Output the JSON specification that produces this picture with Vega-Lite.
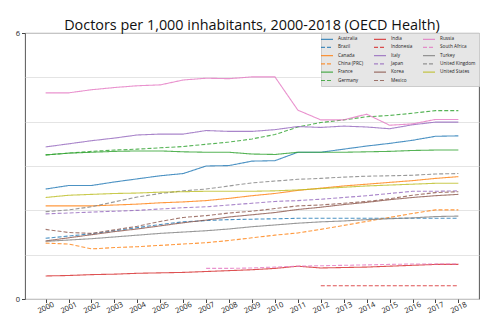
{
  "$schema": "https://vega.github.io/schema/vega-lite/v6.json",
  "autosize": {"type": "none"},
  "padding": {"left": 25, "top": 33, "right": 21, "bottom": 34},
  "width": 454,
  "height": 266,
  "background": "white",
  "title": {"text": "Doctors per 1,000 inhabitants, 2000-2018 (OECD Health)", "font": "Open Sans", "fontSize": 14.4, "fontWeight": "normal", "color": "#111111", "offset": -4, "anchor": "middle"},
  "config": {
    "view": {"stroke": "#444444", "strokeWidth": 0.9},
    "axis": {"labelFont": "Open Sans", "labelColor": "#222222", "tickColor": "#444444", "domain": false, "title": null}
  },
  "datasets": {
    "d": [
      {"c":"Australia","y":2000,"v":2.48},{"c":"Australia","y":2001,"v":2.56},{"c":"Australia","y":2002,"v":2.56},{"c":"Australia","y":2003,"v":2.64},{"c":"Australia","y":2004,"v":2.71},{"c":"Australia","y":2005,"v":2.78},{"c":"Australia","y":2006,"v":2.83},{"c":"Australia","y":2007,"v":3.0},{"c":"Australia","y":2008,"v":3.01},{"c":"Australia","y":2009,"v":3.11},{"c":"Australia","y":2010,"v":3.12},{"c":"Australia","y":2011,"v":3.31},{"c":"Australia","y":2012,"v":3.31},{"c":"Australia","y":2013,"v":3.38},{"c":"Australia","y":2014,"v":3.45},{"c":"Australia","y":2015,"v":3.51},{"c":"Australia","y":2016,"v":3.58},{"c":"Australia","y":2017,"v":3.67},{"c":"Australia","y":2018,"v":3.68},
      {"c":"Brazil","y":2000,"v":1.37},{"c":"Brazil","y":2001,"v":1.42},{"c":"Brazil","y":2002,"v":1.47},{"c":"Brazil","y":2003,"v":1.54},{"c":"Brazil","y":2004,"v":1.61},{"c":"Brazil","y":2005,"v":1.68},{"c":"Brazil","y":2006,"v":1.74},{"c":"Brazil","y":2007,"v":1.77},{"c":"Brazil","y":2008,"v":1.79},{"c":"Brazil","y":2009,"v":1.8},{"c":"Brazil","y":2010,"v":1.81},{"c":"Brazil","y":2011,"v":1.82},{"c":"Brazil","y":2012,"v":1.82},{"c":"Brazil","y":2013,"v":1.82},{"c":"Brazil","y":2014,"v":1.82},{"c":"Brazil","y":2015,"v":1.82},{"c":"Brazil","y":2016,"v":1.82},{"c":"Brazil","y":2017,"v":1.82},{"c":"Brazil","y":2018,"v":1.82},
      {"c":"Canada","y":2000,"v":2.1},{"c":"Canada","y":2001,"v":2.1},{"c":"Canada","y":2002,"v":2.1},{"c":"Canada","y":2003,"v":2.12},{"c":"Canada","y":2004,"v":2.14},{"c":"Canada","y":2005,"v":2.17},{"c":"Canada","y":2006,"v":2.19},{"c":"Canada","y":2007,"v":2.22},{"c":"Canada","y":2008,"v":2.27},{"c":"Canada","y":2009,"v":2.33},{"c":"Canada","y":2010,"v":2.38},{"c":"Canada","y":2011,"v":2.45},{"c":"Canada","y":2012,"v":2.5},{"c":"Canada","y":2013,"v":2.55},{"c":"Canada","y":2014,"v":2.59},{"c":"Canada","y":2015,"v":2.63},{"c":"Canada","y":2016,"v":2.67},{"c":"Canada","y":2017,"v":2.72},{"c":"Canada","y":2018,"v":2.76},
      {"c":"China (PRC)","y":2000,"v":1.26},{"c":"China (PRC)","y":2001,"v":1.24},{"c":"China (PRC)","y":2002,"v":1.13},{"c":"China (PRC)","y":2003,"v":1.16},{"c":"China (PRC)","y":2004,"v":1.18},{"c":"China (PRC)","y":2005,"v":1.21},{"c":"China (PRC)","y":2006,"v":1.24},{"c":"China (PRC)","y":2007,"v":1.27},{"c":"China (PRC)","y":2008,"v":1.32},{"c":"China (PRC)","y":2009,"v":1.38},{"c":"China (PRC)","y":2010,"v":1.44},{"c":"China (PRC)","y":2011,"v":1.49},{"c":"China (PRC)","y":2012,"v":1.57},{"c":"China (PRC)","y":2013,"v":1.66},{"c":"China (PRC)","y":2014,"v":1.75},{"c":"China (PRC)","y":2015,"v":1.84},{"c":"China (PRC)","y":2016,"v":1.93},{"c":"China (PRC)","y":2017,"v":2.01},{"c":"China (PRC)","y":2018,"v":2.01},
      {"c":"France","y":2000,"v":3.25},{"c":"France","y":2001,"v":3.29},{"c":"France","y":2002,"v":3.31},{"c":"France","y":2003,"v":3.33},{"c":"France","y":2004,"v":3.34},{"c":"France","y":2005,"v":3.34},{"c":"France","y":2006,"v":3.32},{"c":"France","y":2007,"v":3.31},{"c":"France","y":2008,"v":3.31},{"c":"France","y":2009,"v":3.27},{"c":"France","y":2010,"v":3.26},{"c":"France","y":2011,"v":3.31},{"c":"France","y":2012,"v":3.31},{"c":"France","y":2013,"v":3.31},{"c":"France","y":2014,"v":3.32},{"c":"France","y":2015,"v":3.33},{"c":"France","y":2016,"v":3.35},{"c":"France","y":2017,"v":3.36},{"c":"France","y":2018,"v":3.36},
      {"c":"Germany","y":2000,"v":3.25},{"c":"Germany","y":2001,"v":3.29},{"c":"Germany","y":2002,"v":3.33},{"c":"Germany","y":2003,"v":3.36},{"c":"Germany","y":2004,"v":3.38},{"c":"Germany","y":2005,"v":3.41},{"c":"Germany","y":2006,"v":3.44},{"c":"Germany","y":2007,"v":3.49},{"c":"Germany","y":2008,"v":3.54},{"c":"Germany","y":2009,"v":3.61},{"c":"Germany","y":2010,"v":3.71},{"c":"Germany","y":2011,"v":3.88},{"c":"Germany","y":2012,"v":3.98},{"c":"Germany","y":2013,"v":4.04},{"c":"Germany","y":2014,"v":4.11},{"c":"Germany","y":2015,"v":4.14},{"c":"Germany","y":2016,"v":4.19},{"c":"Germany","y":2017,"v":4.25},{"c":"Germany","y":2018,"v":4.25},
      {"c":"India","y":2000,"v":0.52},{"c":"India","y":2001,"v":0.53},{"c":"India","y":2002,"v":0.55},{"c":"India","y":2003,"v":0.56},{"c":"India","y":2004,"v":0.58},{"c":"India","y":2005,"v":0.59},{"c":"India","y":2006,"v":0.6},{"c":"India","y":2007,"v":0.62},{"c":"India","y":2008,"v":0.64},{"c":"India","y":2009,"v":0.66},{"c":"India","y":2010,"v":0.69},{"c":"India","y":2011,"v":0.74},{"c":"India","y":2012,"v":0.7},{"c":"India","y":2013,"v":0.71},{"c":"India","y":2014,"v":0.72},{"c":"India","y":2015,"v":0.74},{"c":"India","y":2016,"v":0.76},{"c":"India","y":2017,"v":0.78},{"c":"India","y":2018,"v":0.78},
      {"c":"Indonesia","y":2012,"v":0.3},{"c":"Indonesia","y":2013,"v":0.3},{"c":"Indonesia","y":2014,"v":0.3},{"c":"Indonesia","y":2015,"v":0.3},{"c":"Indonesia","y":2016,"v":0.3},{"c":"Indonesia","y":2017,"v":0.3},{"c":"Indonesia","y":2018,"v":0.3},
      {"c":"Italy","y":2000,"v":3.43},{"c":"Italy","y":2001,"v":3.5},{"c":"Italy","y":2002,"v":3.57},{"c":"Italy","y":2003,"v":3.63},{"c":"Italy","y":2004,"v":3.7},{"c":"Italy","y":2005,"v":3.72},{"c":"Italy","y":2006,"v":3.72},{"c":"Italy","y":2007,"v":3.8},{"c":"Italy","y":2008,"v":3.78},{"c":"Italy","y":2009,"v":3.78},{"c":"Italy","y":2010,"v":3.82},{"c":"Italy","y":2011,"v":3.89},{"c":"Italy","y":2012,"v":3.87},{"c":"Italy","y":2013,"v":3.9},{"c":"Italy","y":2014,"v":3.88},{"c":"Italy","y":2015,"v":3.84},{"c":"Italy","y":2016,"v":3.93},{"c":"Italy","y":2017,"v":3.99},{"c":"Italy","y":2018,"v":3.99},
      {"c":"Japan","y":2000,"v":1.92},{"c":"Japan","y":2001,"v":1.94},{"c":"Japan","y":2002,"v":1.96},{"c":"Japan","y":2003,"v":1.98},{"c":"Japan","y":2004,"v":2.0},{"c":"Japan","y":2005,"v":2.03},{"c":"Japan","y":2006,"v":2.06},{"c":"Japan","y":2007,"v":2.08},{"c":"Japan","y":2008,"v":2.12},{"c":"Japan","y":2009,"v":2.16},{"c":"Japan","y":2010,"v":2.2},{"c":"Japan","y":2011,"v":2.22},{"c":"Japan","y":2012,"v":2.25},{"c":"Japan","y":2013,"v":2.29},{"c":"Japan","y":2014,"v":2.33},{"c":"Japan","y":2015,"v":2.38},{"c":"Japan","y":2016,"v":2.43},{"c":"Japan","y":2017,"v":2.43},{"c":"Japan","y":2018,"v":2.44},
      {"c":"Korea","y":2000,"v":1.31},{"c":"Korea","y":2001,"v":1.38},{"c":"Korea","y":2002,"v":1.45},{"c":"Korea","y":2003,"v":1.52},{"c":"Korea","y":2004,"v":1.58},{"c":"Korea","y":2005,"v":1.65},{"c":"Korea","y":2006,"v":1.72},{"c":"Korea","y":2007,"v":1.78},{"c":"Korea","y":2008,"v":1.85},{"c":"Korea","y":2009,"v":1.9},{"c":"Korea","y":2010,"v":1.95},{"c":"Korea","y":2011,"v":2.02},{"c":"Korea","y":2012,"v":2.07},{"c":"Korea","y":2013,"v":2.13},{"c":"Korea","y":2014,"v":2.18},{"c":"Korea","y":2015,"v":2.24},{"c":"Korea","y":2016,"v":2.29},{"c":"Korea","y":2017,"v":2.33},{"c":"Korea","y":2018,"v":2.36},
      {"c":"Mexico","y":2000,"v":1.57},{"c":"Mexico","y":2001,"v":1.5},{"c":"Mexico","y":2002,"v":1.48},{"c":"Mexico","y":2003,"v":1.56},{"c":"Mexico","y":2004,"v":1.64},{"c":"Mexico","y":2005,"v":1.75},{"c":"Mexico","y":2006,"v":1.84},{"c":"Mexico","y":2007,"v":1.88},{"c":"Mexico","y":2008,"v":1.94},{"c":"Mexico","y":2009,"v":1.98},{"c":"Mexico","y":2010,"v":2.04},{"c":"Mexico","y":2011,"v":2.1},{"c":"Mexico","y":2012,"v":2.12},{"c":"Mexico","y":2013,"v":2.16},{"c":"Mexico","y":2014,"v":2.2},{"c":"Mexico","y":2015,"v":2.26},{"c":"Mexico","y":2016,"v":2.34},{"c":"Mexico","y":2017,"v":2.4},{"c":"Mexico","y":2018,"v":2.42},
      {"c":"Russia","y":2000,"v":4.65},{"c":"Russia","y":2001,"v":4.65},{"c":"Russia","y":2002,"v":4.72},{"c":"Russia","y":2003,"v":4.77},{"c":"Russia","y":2004,"v":4.81},{"c":"Russia","y":2005,"v":4.83},{"c":"Russia","y":2006,"v":4.94},{"c":"Russia","y":2007,"v":4.98},{"c":"Russia","y":2008,"v":4.97},{"c":"Russia","y":2009,"v":5.01},{"c":"Russia","y":2010,"v":5.01},{"c":"Russia","y":2011,"v":4.26},{"c":"Russia","y":2012,"v":4.04},{"c":"Russia","y":2013,"v":4.04},{"c":"Russia","y":2014,"v":4.17},{"c":"Russia","y":2015,"v":3.92},{"c":"Russia","y":2016,"v":3.95},{"c":"Russia","y":2017,"v":4.05},{"c":"Russia","y":2018,"v":4.05},
      {"c":"South Africa","y":2007,"v":0.69},{"c":"South Africa","y":2008,"v":0.69},{"c":"South Africa","y":2009,"v":0.7},{"c":"South Africa","y":2010,"v":0.72},{"c":"South Africa","y":2011,"v":0.74},{"c":"South Africa","y":2012,"v":0.75},{"c":"South Africa","y":2013,"v":0.76},{"c":"South Africa","y":2014,"v":0.77},{"c":"South Africa","y":2015,"v":0.78},{"c":"South Africa","y":2016,"v":0.79},{"c":"South Africa","y":2017,"v":0.79},{"c":"South Africa","y":2018,"v":0.79},
      {"c":"Turkey","y":2000,"v":1.3},{"c":"Turkey","y":2001,"v":1.33},{"c":"Turkey","y":2002,"v":1.36},{"c":"Turkey","y":2003,"v":1.4},{"c":"Turkey","y":2004,"v":1.44},{"c":"Turkey","y":2005,"v":1.48},{"c":"Turkey","y":2006,"v":1.51},{"c":"Turkey","y":2007,"v":1.54},{"c":"Turkey","y":2008,"v":1.58},{"c":"Turkey","y":2009,"v":1.63},{"c":"Turkey","y":2010,"v":1.67},{"c":"Turkey","y":2011,"v":1.71},{"c":"Turkey","y":2012,"v":1.74},{"c":"Turkey","y":2013,"v":1.76},{"c":"Turkey","y":2014,"v":1.79},{"c":"Turkey","y":2015,"v":1.81},{"c":"Turkey","y":2016,"v":1.83},{"c":"Turkey","y":2017,"v":1.86},{"c":"Turkey","y":2018,"v":1.87},
      {"c":"United Kingdom","y":2000,"v":1.97},{"c":"United Kingdom","y":2001,"v":2.01},{"c":"United Kingdom","y":2002,"v":2.08},{"c":"United Kingdom","y":2003,"v":2.19},{"c":"United Kingdom","y":2004,"v":2.3},{"c":"United Kingdom","y":2005,"v":2.38},{"c":"United Kingdom","y":2006,"v":2.44},{"c":"United Kingdom","y":2007,"v":2.48},{"c":"United Kingdom","y":2008,"v":2.55},{"c":"United Kingdom","y":2009,"v":2.62},{"c":"United Kingdom","y":2010,"v":2.66},{"c":"United Kingdom","y":2011,"v":2.7},{"c":"United Kingdom","y":2012,"v":2.72},{"c":"United Kingdom","y":2013,"v":2.75},{"c":"United Kingdom","y":2014,"v":2.77},{"c":"United Kingdom","y":2015,"v":2.78},{"c":"United Kingdom","y":2016,"v":2.79},{"c":"United Kingdom","y":2017,"v":2.82},{"c":"United Kingdom","y":2018,"v":2.83},
      {"c":"United States","y":2000,"v":2.29},{"c":"United States","y":2001,"v":2.34},{"c":"United States","y":2002,"v":2.36},{"c":"United States","y":2003,"v":2.38},{"c":"United States","y":2004,"v":2.39},{"c":"United States","y":2005,"v":2.41},{"c":"United States","y":2006,"v":2.42},{"c":"United States","y":2007,"v":2.43},{"c":"United States","y":2008,"v":2.43},{"c":"United States","y":2009,"v":2.43},{"c":"United States","y":2010,"v":2.44},{"c":"United States","y":2011,"v":2.46},{"c":"United States","y":2012,"v":2.49},{"c":"United States","y":2013,"v":2.52},{"c":"United States","y":2014,"v":2.55},{"c":"United States","y":2015,"v":2.57},{"c":"United States","y":2016,"v":2.59},{"c":"United States","y":2017,"v":2.61},{"c":"United States","y":2018,"v":2.61}
    ]
  },
  "data": {"name": "d"},
  "mark": {"type": "line", "strokeWidth": 1.1, "opacity": 0.8},
  "encoding": {
    "x": {
      "field": "y", "type": "quantitative",
      "scale": {"domain": [1999.1, 2018.9], "nice": false, "zero": false},
      "axis": {"values": [2000,2001,2002,2003,2004,2005,2006,2007,2008,2009,2010,2011,2012,2013,2014,2015,2016,2017,2018], "format": "d", "grid": false, "labelAngle": -25, "labelAlign": "center", "labelBaseline": "middle", "labelFontSize": 7.5, "labelPadding": 5, "tickSize": 3.5, "labelFlush": false, "labelOverlap": false}
    },
    "y": {
      "field": "v", "type": "quantitative",
      "scale": {"domain": [0, 6], "nice": false},
      "axis": {"values": [0,1,2,3,4,5,6], "grid": true, "gridColor": "#dddddd", "gridWidth": 0.8, "labelExpr": "datum.value == 0 || datum.value == 6 ? datum.label : ''", "tickOpacity": {"condition": {"test": "datum.value == 0 || datum.value == 6", "value": 1}, "value": 0}, "labelFontSize": 7.5, "tickSize": 3.5, "labelPadding": 2}
    },
    "color": {
      "field": "c", "type": "nominal",
      "scale": {
        "domain": ["Australia","Brazil","Canada","China (PRC)","France","Germany","India","Indonesia","Italy","Japan","Korea","Mexico","Russia","South Africa","Turkey","United Kingdom","United States"],
        "range": ["#1f77b4","#1f77b4","#ff7f0e","#ff7f0e","#2ca02c","#2ca02c","#d62728","#d62728","#9467bd","#9467bd","#8c564b","#8c564b","#e377c2","#e377c2","#7f7f7f","#7f7f7f","#bcbd22"]
      },
      "legend": {"title": null, "orient": "top-right", "offset": 0, "columns": 3, "fillColor": "#e6e6e6", "strokeColor": "#cccccc", "padding": 3, "labelFont": "Open Sans", "labelFontSize": 4.7, "labelColor": "#222222", "symbolType": "M-3,0H3", "symbolSize": 16, "symbolStrokeWidth": 1.2, "symbolOpacity": 0.8, "rowPadding": 2.3, "columnPadding": 7, "labelOffset": 8, "labelLimit": 60}
    },
    "strokeDash": {
      "field": "c", "type": "nominal",
      "scale": {
        "domain": ["Australia","Brazil","Canada","China (PRC)","France","Germany","India","Indonesia","Italy","Japan","Korea","Mexico","Russia","South Africa","Turkey","United Kingdom","United States"],
        "range": [[1,0],[4,2],[1,0],[4,2],[1,0],[4,2],[1,0],[4,2],[1,0],[4,2],[1,0],[4,2],[1,0],[4,2],[1,0],[4,2],[1,0]]
      },
      "legend": {"title": null, "orient": "top-right", "offset": 0, "columns": 3, "fillColor": "#e6e6e6", "strokeColor": "#cccccc", "padding": 3, "labelFont": "Open Sans", "labelFontSize": 4.7, "labelColor": "#222222", "symbolType": "M-3,0H3", "symbolSize": 16, "symbolStrokeWidth": 1.2, "symbolOpacity": 0.8, "rowPadding": 2.3, "columnPadding": 7, "labelOffset": 8, "labelLimit": 60}
    }
  }
}
